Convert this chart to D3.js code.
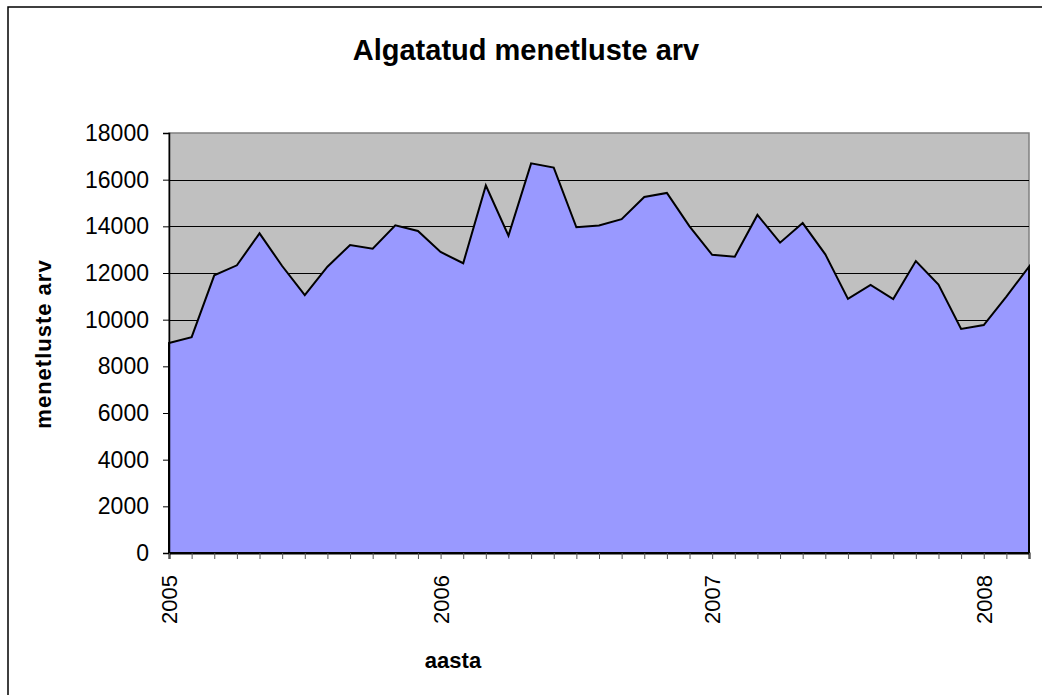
<!DOCTYPE html>
<html>
<head>
<meta charset="utf-8">
<script src="https://cdn.jsdelivr.net/npm/d3@7"></script>
<style>
  body { margin: 0; background: #fff; }
  text { font-family: "Liberation Sans", Arial, sans-serif; fill: #000; }
</style>
</head>
<body>
<div id="chart"></div>
<script>
// monthly counts, Jan 2005 .. Mar 2008
const startYear = 2005;
const counts = [
  9000, 9250, 11900, 12330, 13700, 12300, 11050, 12270, 13200, 13040, 14040, 13800,
  12900, 12420, 15750, 13600, 16700, 16520, 13960, 14040, 14310, 15260, 15430, 14000,
  12780, 12700, 14490, 13300, 14140, 12800, 10890, 11490, 10880, 12510, 11500, 9600,
  9770, 10990, 12270
];
const yearLabels = [2005, 2006, 2007, 2008];
const yTicks = [0, 2000, 4000, 6000, 8000, 10000, 12000, 14000, 16000, 18000];

const width = 1042, height = 695;
const margin = {top: 133, right: 13, bottom: 142, left: 169};

const svg = d3.select("#chart").append("svg")
    .attr("width", width)
    .attr("height", height);

// outer chart border (right and bottom fall outside the picture)
svg.append("rect")
    .attr("x", 8).attr("y", 7)
    .attr("width", 1060).attr("height", 720)
    .attr("fill", "#fff")
    .attr("stroke", "#000")
    .attr("stroke-width", 1.5);

let x = d3.scaleLinear()
    .domain([0, counts.length - 1])
    .range([margin.left, width - margin.right]);

let y = d3.scaleLinear()
    .domain([0, 18000])
    .range([height - margin.bottom, margin.top]);

// plot background
svg.append("rect")
    .attr("x", x(0)).attr("y", y(18000))
    .attr("width", x(counts.length - 1) - x(0))
    .attr("height", y(0) - y(18000))
    .attr("fill", "#c0c0c0")
    .attr("stroke", "#808080")
    .attr("stroke-width", 1.5);

// grid lines
svg.append("g")
    .selectAll("line")
    .data(yTicks.filter(d => d > 0 && d < 18000))
    .enter().append("line")
    .attr("x1", x(0)).attr("x2", x(counts.length - 1))
    .attr("y1", d => Math.round(y(d)) + 0.5)
    .attr("y2", d => Math.round(y(d)) + 0.5)
    .attr("stroke", "#000")
    .attr("stroke-width", 1);

// area
let area = d3.area()
    .x((d, i) => x(i))
    .y0(y(0))
    .y1(d => y(d));

svg.append("path")
    .datum(counts)
    .attr("d", area)
    .attr("fill", "#9999ff")
    .attr("stroke", "#000")
    .attr("stroke-width", 2)
    .attr("stroke-linejoin", "miter");

// y axis
let yAxis = d3.axisLeft(y)
    .tickValues(yTicks)
    .tickSize(6)
    .tickPadding(14)
    .tickFormat(d3.format("d"));

let gy = svg.append("g")
    .attr("transform", "translate(" + x(0) + ",0)")
    .call(yAxis);
gy.select(".domain").attr("stroke", "#000").attr("stroke-width", 1.5);
gy.selectAll(".tick line").attr("stroke", "#000");
gy.selectAll(".tick text")
    .attr("font-size", "23px")
    .attr("font-family", "Liberation Sans, Arial, sans-serif");

// x axis: monthly ticks, year labels
let monthIdx = d3.range(counts.length);
let xAxis = d3.axisBottom(x)
    .tickValues(monthIdx)
    .tickSize(6)
    .tickFormat("");

let gx = svg.append("g")
    .attr("transform", "translate(0," + y(0) + ")")
    .call(xAxis);
gx.select(".domain").attr("stroke", "#000").attr("stroke-width", 2);
gx.selectAll(".tick line").attr("stroke", "#555");

svg.append("g")
    .selectAll("text")
    .data(yearLabels)
    .enter().append("text")
    .attr("transform", d => "translate(" + (x((d - startYear) * 12) + 8) + "," + (y(0) + 22) + ") rotate(-90)")
    .attr("text-anchor", "end")
    .attr("font-size", "22px")
    .text(d => d);

// title
svg.append("text")
    .attr("x", 526)
    .attr("y", 60)
    .attr("text-anchor", "middle")
    .attr("font-size", "29px")
    .attr("font-weight", "bold")
    .text("Algatatud menetluste arv");

// axis titles
svg.append("text")
    .attr("x", 453)
    .attr("y", 668)
    .attr("text-anchor", "middle")
    .attr("font-size", "22px")
    .attr("font-weight", "bold")
    .text("aasta");

svg.append("text")
    .attr("transform", "translate(51,344) rotate(-90)")
    .attr("text-anchor", "middle")
    .attr("font-size", "22px")
    .attr("font-weight", "bold")
    .attr("letter-spacing", "1px")
    .text("menetluste arv");
</script>
</body>
</html>
